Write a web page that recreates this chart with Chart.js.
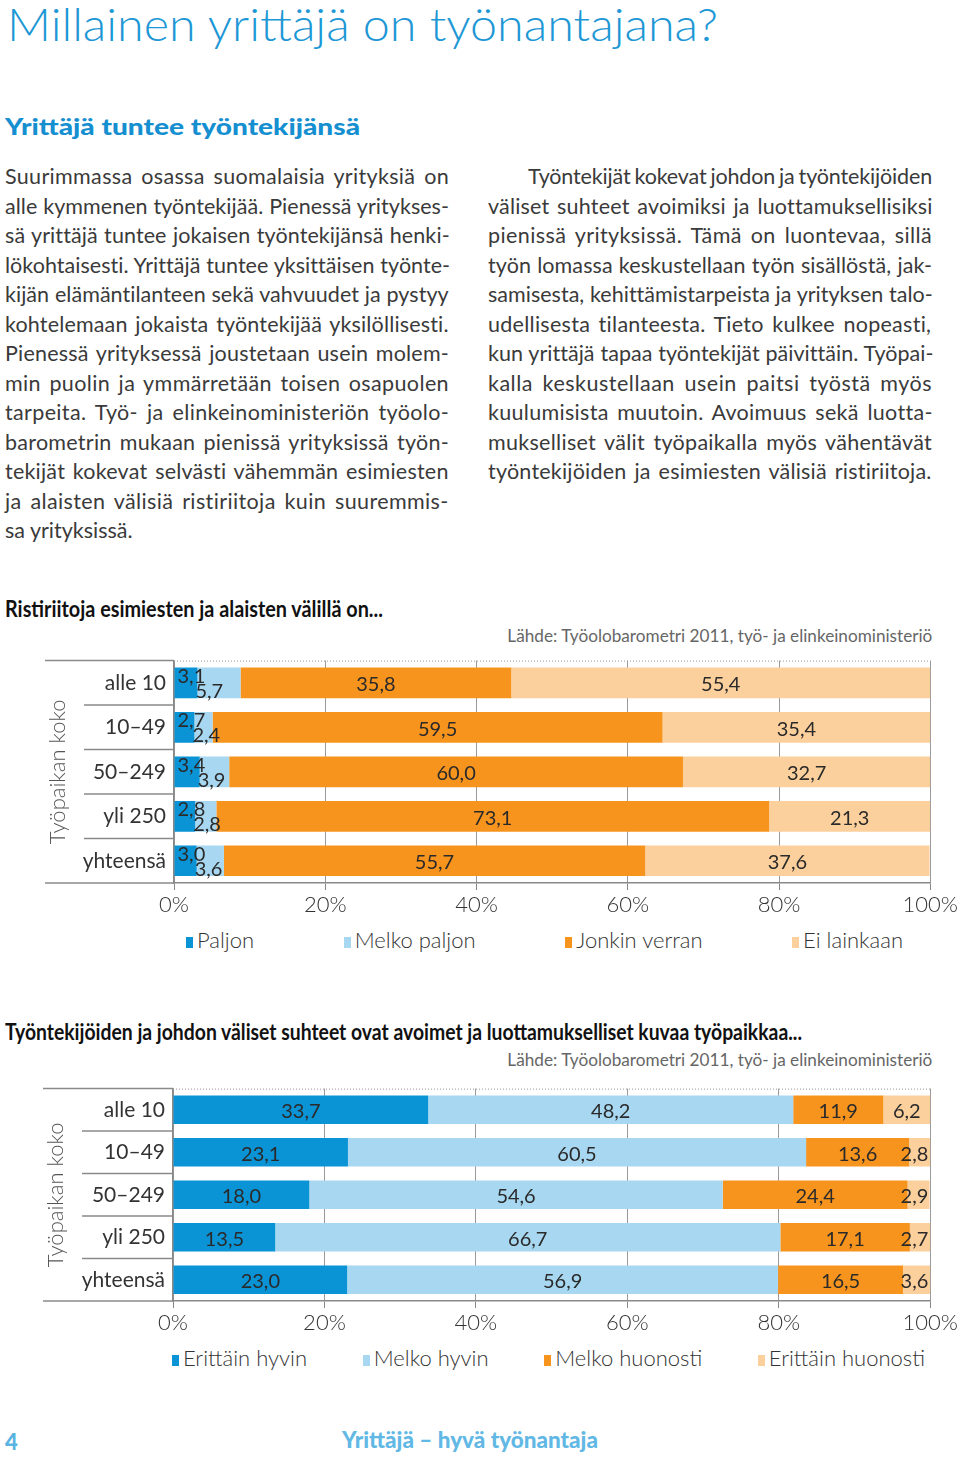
<!DOCTYPE html>
<html lang="fi">
<head>
<meta charset="utf-8">
<title>Millainen yrittäjä on työnantajana?</title>
<script src="https://cdn.jsdelivr.net/npm/chart.js@4.4.1/dist/chart.umd.min.js"></script>
<style>
  html, body { margin: 0; padding: 0; background: #fff; }
  body { width: 960px; height: 1459px; position: relative; overflow: hidden;
         font-family: Lato, "Open Sans", sans-serif; color: #3a3a3a; }
  .abs { position: absolute; white-space: nowrap; line-height: 1.2; }
  #title { left: 7px; top: -4px; font-size: 46px; font-weight: 300; color: #1d97d5; transform-origin: left; }
  #sub { left: 5px; top: 114px; font-size: 22px; font-weight: 900; color: #168fd1; transform-origin: left; }
  .col { position: absolute; top: 162px; width: 444px; font-size: 21.5px; line-height: 29.5px; font-weight: 400; }
  .col div { width: 444px; white-space: nowrap; }
  .col div.ind { margin-left: 40px; width: 404px; }
  #colL { left: 5px; }
  #colR { left: 488px; }
  .ctitle { left: 5px; font-size: 23px; font-weight: 700; color: #111; transform-origin: left; }
  .src { right: 28px; font-size: 18px; font-weight: 400; color: #666; transform-origin: right; }
  .wrap { position: absolute; left: 0; width: 960px; }
  .legend { position: absolute; display: flex; justify-content: space-between; font-size: 22px; font-weight: 300;
            line-height: 1.2; color: #333; white-space: nowrap; }
  .legend i { display: inline-block; width: 7px; height: 11px; margin-right: 4px; vertical-align: 0; }
  #pnum { left: 5px; top: 1429px; font-size: 22px; font-weight: 900; color: #5ab4e2; }
  #foot { left: 342px; top: 1427px; font-size: 22px; font-weight: 900; color: #62b8e4; transform-origin: left; }
</style>
</head>
<body>
<div class="abs" id="title">Millainen yrittäjä on työnantajana?</div>
<div class="abs" id="sub">Yrittäjä tuntee työntekijänsä</div>

<div class="col" id="colL">
  <div class="j"><span>Suurimmassa osassa suomalaisia yrityksiä on</span></div>
  <div class="j"><span>alle kymmenen työntekijää. Pienessä yritykses-</span></div>
  <div class="j"><span>sä yrittäjä tuntee jokaisen työntekijänsä henki-</span></div>
  <div class="j"><span>lökohtaisesti. Yrittäjä tuntee yksittäisen työnte-</span></div>
  <div class="j"><span>kijän elämäntilanteen sekä vahvuudet ja pystyy</span></div>
  <div class="j"><span>kohtelemaan jokaista työntekijää yksilöllisesti.</span></div>
  <div class="j"><span>Pienessä yrityksessä joustetaan usein molem-</span></div>
  <div class="j"><span>min puolin ja ymmärretään toisen osapuolen</span></div>
  <div class="j"><span>tarpeita. Työ- ja elinkeinoministeriön työolo-</span></div>
  <div class="j"><span>barometrin mukaan pienissä yrityksissä työn-</span></div>
  <div class="j"><span>tekijät kokevat selvästi vähemmän esimiesten</span></div>
  <div class="j"><span>ja alaisten välisiä ristiriitoja kuin suuremmis-</span></div>
  <div><span>sa yrityksissä.</span></div>
</div>

<div class="col" id="colR">
  <div class="j ind"><span>Työntekijät kokevat johdon ja työntekijöiden</span></div>
  <div class="j"><span>väliset suhteet avoimiksi ja luottamuksellisiksi</span></div>
  <div class="j"><span>pienissä yrityksissä. Tämä on luontevaa, sillä</span></div>
  <div class="j"><span>työn lomassa keskustellaan työn sisällöstä, jak-</span></div>
  <div class="j"><span>samisesta, kehittämistarpeista ja yrityksen talo-</span></div>
  <div class="j"><span>udellisesta tilanteesta. Tieto kulkee nopeasti,</span></div>
  <div class="j"><span>kun yrittäjä tapaa työntekijät päivittäin. Työpai-</span></div>
  <div class="j"><span>kalla keskustellaan usein paitsi työstä myös</span></div>
  <div class="j"><span>kuulumisista muutoin. Avoimuus sekä luotta-</span></div>
  <div class="j"><span>mukselliset välit työpaikalla myös vähentävät</span></div>
  <div class="j"><span>työntekijöiden ja esimiesten välisiä ristiriitoja.</span></div>
</div>

<div class="abs ctitle" id="t1" style="top:595px">Ristiriitoja esimiesten ja alaisten välillä on...</div>
<div class="abs src" id="s1" style="top:625px">Lähde: Työolobarometri 2011, työ- ja elinkeinoministeriö</div>
<div class="wrap" style="top:640px;height:280px"><canvas id="conflicts"></canvas></div>
<div class="legend" id="leg1" style="left:186px;width:717px;top:927px"></div>

<div class="abs ctitle" id="t2" style="top:1018px">Työntekijöiden ja johdon väliset suhteet ovat avoimet ja luottamukselliset kuvaa työpaikkaa...</div>
<div class="abs src" id="s2" style="top:1049px">Lähde: Työolobarometri 2011, työ- ja elinkeinoministeriö</div>
<div class="wrap" style="top:1068px;height:275px"><canvas id="relations"></canvas></div>
<div class="legend" id="leg2" style="left:172px;width:753px;top:1345px"></div>

<div class="abs" id="pnum">4</div>
<div class="abs" id="foot">Yrittäjä – hyvä työnantaja</div>

<script>
// data
const sizes = ['alle 10', '10–49', '50–249', 'yli 250', 'yhteensä'];
const pctTicks = ['0%', '20%', '40%', '60%', '80%', '100%'];

const conflictSeries = ['Paljon', 'Melko paljon', 'Jonkin verran', 'Ei lainkaan'];
const conflictPaljon = [3.1, 2.7, 3.4, 2.8, 3.0];
const conflictMelkoPaljon = [5.7, 2.4, 3.9, 2.8, 3.6];
const conflictJonkin = [35.8, 59.5, 60.0, 73.1, 55.7];
const conflictEi = [55.4, 35.4, 32.7, 21.3, 37.6];

const relationSeries = ['Erittäin hyvin', 'Melko hyvin', 'Melko huonosti', 'Erittäin huonosti'];
const relErittainHyvin = [33.7, 23.1, 18.0, 13.5, 23.0];
const relMelkoHyvin = [48.2, 60.5, 54.6, 66.7, 56.9];
const relMelkoHuonosti = [11.9, 13.6, 24.4, 17.1, 16.5];
const relErittainHuonosti = [6.2, 2.8, 2.9, 2.7, 3.6];

const colors = ['#0a93d5', '#a8d8f1', '#f7941e', '#fcd09c'];

// justify body lines: spread the difference over letters and word gaps
document.querySelectorAll('.col .j').forEach(el => {
    const span = el.firstElementChild;
    const text = span.textContent;
    const spaces = (text.match(/ /g) || []).length;
    const diff = el.clientWidth - span.getBoundingClientRect().width;
    const ls = diff * 0.55 / text.length;
    span.style.letterSpacing = ls + 'px';
    if (spaces) span.style.wordSpacing = (diff * 0.45 / spaces) + 'px';
});

function fitX(id, width) {
    const el = document.getElementById(id);
    el.style.transform = 'scaleX(' + (width / el.getBoundingClientRect().width) + ')';
}
fitX('title', 711);
fitX('sub', 355);
fitX('t1', 378);
fitX('t2', 797);
fitX('s1', 425);
fitX('s2', 425);
fitX('foot', 256);

Chart.defaults.font.family = 'Lato, "Open Sans", sans-serif';
Chart.defaults.color = '#333';

// row separators at the left of the plot, dotted top edge
const frame = {
    id: 'frame',
    beforeDatasetsDraw(chart, args, opts) {
        const {ctx, chartArea: a, scales: {y}} = chart;
        const n = chart.data.labels.length;
        ctx.save();
        ctx.strokeStyle = '#8a8a8a';
        ctx.lineWidth = 1.5;
        for (let i = 0; i <= n; i++) {
            const yy = y.getPixelForValue(i - 0.5);
            ctx.beginPath();
            ctx.moveTo(i === 0 || i === n ? opts.outerLeft : opts.innerLeft, yy);
            ctx.lineTo(a.left, yy);
            ctx.stroke();
        }
        ctx.setLineDash([1, 2]);
        ctx.lineWidth = 1;
        ctx.strokeStyle = '#999';
        ctx.beginPath();
        ctx.moveTo(a.left, a.top + 0.5);
        ctx.lineTo(a.right, a.top + 0.5);
        ctx.stroke();
        ctx.restore();
    }
};

// value labels on the bar segments
const valueLabels = {
    id: 'valueLabels',
    afterDatasetsDraw(chart, args, opts) {
        const {ctx, chartArea: a} = chart;
        ctx.save();
        ctx.font = '20px Lato, "Open Sans", sans-serif';
        ctx.fillStyle = '#2a2a2a';
        chart.data.datasets.forEach((ds, i) => {
            chart.getDatasetMeta(i).data.forEach((bar, j) => {
                const {x, base, y, height} = bar.getProps(['x', 'base', 'y', 'height'], true);
                const txt = ds.data[j].toFixed(1).replace('.', ',');
                const tw = ctx.measureText(txt).width;
                let tx, ty;
                if (opts.stagger && i < 2 && x - base < 50) {
                    ctx.textAlign = 'left';
                    if (i === 0) {
                        tx = base + 3; ty = y - height / 2 - 1; ctx.textBaseline = 'top';
                    } else {
                        tx = base - 2; ty = y + height / 2 + 3; ctx.textBaseline = 'bottom';
                    }
                } else {
                    ctx.textAlign = 'center';
                    ctx.textBaseline = 'middle';
                    tx = Math.min((base + x) / 2, a.right - 2 - tw / 2);
                    ty = y + 2;
                }
                ctx.fillText(txt, tx, ty);
            });
        });
        ctx.restore();
    }
};

function makeChart(id, legendId, series, values, o) {
    const chart = new Chart(document.getElementById(id), {
        type: 'bar',
        data: {
            labels: sizes,
            datasets: series.map((s, i) => ({
                label: s,
                data: values[i],
                backgroundColor: colors[i],
                borderWidth: 0,
                barPercentage: o.bar,
                categoryPercentage: 1
            }))
        },
        options: {
            indexAxis: 'y',
            responsive: true,
            maintainAspectRatio: false,
            animation: false,
            layout: { padding: { left: o.left, top: o.top, right: 29, bottom: 0 } },
            plugins: {
                legend: { display: false },
                tooltip: { enabled: false },
                frame: { outerLeft: o.outerLeft, innerLeft: o.innerLeft },
                valueLabels: { stagger: o.stagger }
            },
            scales: {
                x: {
                    stacked: true,
                    min: 0,
                    max: 100,
                    ticks: {
                        stepSize: 20,
                        callback: (v, i) => pctTicks[i],
                        font: { size: 22, weight: 300 },
                        color: '#333',
                        padding: 2,
                        maxRotation: 0
                    },
                    grid: {
                        color: '#9a9a9a',
                        borderDash: [1, 2],
                        tickBorderDash: [],
                        tickColor: '#888',
                        tickLength: 7,
                        lineWidth: 1
                    },
                    border: { color: '#888', width: 1.5 },
                    afterFit: s => { s.height = o.xh; }
                },
                y: {
                    stacked: true,
                    ticks: { font: { size: 21 }, color: '#333', padding: 8 },
                    grid: { display: false, drawTicks: false },
                    border: { color: '#888', width: 1.5 },
                    title: {
                        display: true,
                        text: 'Työpaikan koko',
                        font: { size: 22, weight: 300 },
                        color: '#555',
                        padding: { top: 5, bottom: 0 }
                    },
                    afterFit: s => { s.width = o.yw; }
                }
            }
        },
        plugins: [frame, valueLabels]
    });

    const leg = document.getElementById(legendId);
    chart.data.datasets.forEach(ds => {
        const item = document.createElement('span');
        const box = document.createElement('i');
        box.style.background = ds.backgroundColor;
        item.appendChild(box);
        item.appendChild(document.createTextNode(ds.label));
        leg.appendChild(item);
    });
    return chart;
}

makeChart('conflicts', 'leg1', conflictSeries,
    [conflictPaljon, conflictMelkoPaljon, conflictJonkin, conflictEi],
    { left: 40, yw: 134, top: 17, xh: 37, bar: 0.69, stagger: true, outerLeft: 45, innerLeft: 84 });

makeChart('relations', 'leg2', relationSeries,
    [relErittainHyvin, relMelkoHyvin, relMelkoHuonosti, relErittainHuonosti],
    { left: 38, yw: 135, top: 16, xh: 42, bar: 0.67, stagger: false, outerLeft: 43, innerLeft: 82 });
</script>
</body>
</html>
